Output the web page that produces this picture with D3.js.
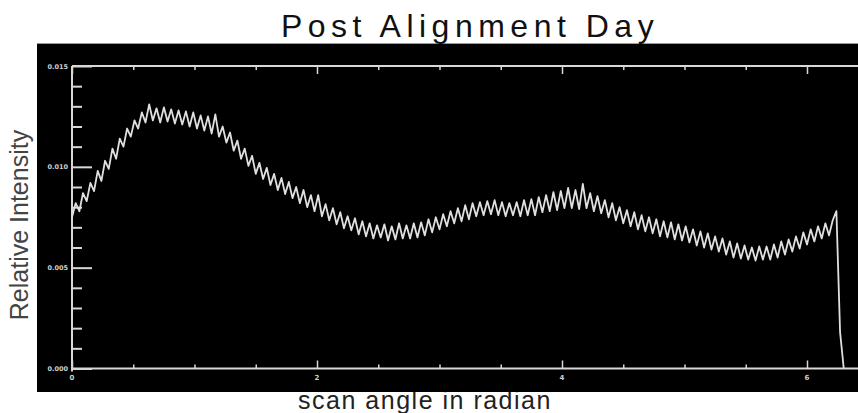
<!DOCTYPE html>
<html>
<head>
<meta charset="utf-8">
<script src="https://cdn.jsdelivr.net/npm/d3@7/dist/d3.min.js"></script>
<style>
  body { margin: 0; background: #fff; }
  svg { display: block; }
</style>
</head>
<body>
<svg id="chart" width="858" height="413"></svg>
<script>
// Chart Data
const chartTitle = "Post Alignment Day";
const xLabel = "scan angle in radian";
const yLabel = "Relative Intensity";

// angle sampling step (radian) of the scan
const angleStep = 0.03;

// relative intensity, in units of 1e-3, one value per sample
const intensity = [
    7.5, 8.2, 7.8, 8.7, 8.3, 9.2, 8.8, 9.8, 9.3, 10.3,
    9.9, 10.9, 10.4, 11.4, 11.0, 11.9, 11.5, 12.3, 11.9, 12.7,
    12.2, 13.1, 12.3, 12.9, 12.2, 12.95, 12.25, 12.85, 12.15, 12.8,
    12.1, 12.75, 12.0, 12.7, 11.9, 12.55, 11.8, 12.5, 11.65, 12.6,
    11.5, 12.0, 11.2, 11.7, 10.8, 11.3, 10.4, 10.9, 10.05, 10.55,
    9.65, 10.2, 9.4, 9.95, 9.1, 9.65, 8.85, 9.45, 8.65, 9.25,
    8.45, 9.0, 8.2, 8.85, 8.0, 8.6, 7.8, 8.6, 7.55, 8.15,
    7.35, 7.95, 7.15, 7.75, 6.95, 7.55, 6.85, 7.45, 6.65, 7.3,
    6.55, 7.2, 6.45, 7.1, 6.5, 7.15, 6.35, 7.05, 6.4, 7.2,
    6.45, 7.1, 6.45, 7.2, 6.5, 7.25, 6.6, 7.4, 6.75, 7.5,
    6.9, 7.65, 7.05, 7.8, 7.2, 7.95, 7.3, 8.1, 7.4, 8.2,
    7.55, 8.25, 7.6, 8.3, 7.65, 8.35, 7.6, 8.25, 7.55, 8.2,
    7.6, 8.25, 7.55, 8.35, 7.6, 8.4, 7.6, 8.5, 7.75, 8.6,
    7.8, 8.75, 7.85, 8.8, 7.95, 8.95, 7.95, 8.85, 7.9, 9.15,
    7.95, 8.7, 7.8, 8.55, 7.7, 8.35, 7.5, 8.2, 7.35, 8.0,
    7.2, 7.85, 7.05, 7.75, 6.9, 7.6, 6.8, 7.5, 6.7, 7.4,
    6.55, 7.3, 6.5, 7.25, 6.4, 7.15, 6.35, 7.05, 6.25, 6.9,
    6.1, 6.8, 6.0, 6.7, 5.9, 6.55, 5.8, 6.45, 5.65, 6.3,
    5.5, 6.2, 5.45, 6.1, 5.4, 6.0, 5.35, 6.05, 5.4, 6.05,
    5.4, 6.15, 5.5, 6.3, 5.65, 6.4, 5.8, 6.55, 5.95, 6.75,
    6.15, 6.9, 6.3, 7.05, 6.45, 7.2, 6.6, 7.35, 7.8, 1.8,
    0
];

// Axis ticks
const xMajorTicks = [0, 2, 4, 6];
const xMinorTicks = [0.5, 1, 1.5, 2.5, 3, 3.5, 4.5, 5, 5.5];
const yMajorTicks = [0, 5, 10, 15];
const yTickLabels = ["0.000", "0.005", "0.010", "0.015"];
const yMinorTicks = [1, 2, 3, 4, 6, 7, 8, 9, 11, 12, 13, 14];

// Build points
const points = intensity.map((v, i) => ({ angle: i * angleStep, value: v }));

// SVG and layout
const svg = d3.select("#chart");
const panel = { x: 37, y: 43, w: 821, h: 349 };
const plot = { left: 72, right: 858, top: 66, bottom: 368.5 };
const axisColor = "#d8d8d8";

// Scales
const x = d3.scaleLinear()
    .domain([0, (plot.right - plot.left) / 122.5])
    .range([plot.left, plot.right]);
const y = d3.scaleLinear()
    .domain([0, 15])
    .range([plot.bottom, plot.top]);

// X label sits behind the panel (its top is hidden)
svg.append("text")
    .attr("x", 425)
    .attr("y", 409)
    .attr("text-anchor", "middle")
    .attr("font-family", "Liberation Sans, Arial, sans-serif")
    .attr("font-size", 25)
    .attr("letter-spacing", 1.5)
    .attr("fill", "#222")
    .text(xLabel);

// Black panel
svg.append("rect")
    .attr("x", panel.x)
    .attr("y", panel.y)
    .attr("width", panel.w)
    .attr("height", panel.h)
    .attr("fill", "#000");
svg.append("line")
    .attr("x1", panel.x).attr("x2", panel.x + panel.w)
    .attr("y1", panel.y + 0.5).attr("y2", panel.y + 0.5)
    .attr("stroke", "#9a9a9a");

// Title
svg.append("text")
    .attr("x", 470)
    .attr("y", 37)
    .attr("text-anchor", "middle")
    .attr("font-family", "Liberation Sans, Arial, sans-serif")
    .attr("font-size", 32)
    .attr("letter-spacing", 5.5)
    .attr("fill", "#111")
    .text(chartTitle);

// Y label
svg.append("text")
    .attr("transform", "translate(28,225) rotate(-90)")
    .attr("text-anchor", "middle")
    .attr("font-family", "Liberation Sans, Arial, sans-serif")
    .attr("font-size", 25)
    .attr("fill", "#444")
    .text(yLabel);

const g = svg.append("g");

// Left axis with inward ticks
const yAxis = d3.axisRight(y)
    .tickValues(yMajorTicks)
    .tickSize(20)
    .tickFormat("");
g.append("g")
    .attr("transform", `translate(${plot.left},0)`)
    .call(yAxis)
    .call(s => s.select(".domain").remove())
    .call(s => s.selectAll("line").attr("stroke", axisColor).attr("stroke-width", 2));

g.append("g")
    .attr("transform", `translate(${plot.left},0)`)
    .call(d3.axisRight(y).tickValues(yMinorTicks).tickSize(10).tickFormat(""))
    .call(s => s.select(".domain").remove())
    .call(s => s.selectAll("line").attr("stroke", axisColor).attr("stroke-width", 2));

// Y tick labels
g.selectAll(".ylab")
    .data(yMajorTicks)
    .enter()
    .append("text")
    .attr("class", "ylab")
    .attr("x", plot.left - 4)
    .attr("y", d => y(d) + 2.5)
    .attr("text-anchor", "end")
    .attr("font-family", "DejaVu Sans, sans-serif")
    .attr("font-size", 6.5)
    .attr("font-weight", "bold")
    .attr("fill", "#cfcfcf")
    .text((d, i) => yTickLabels[i]);

// Bottom axis, ticks pointing up
g.append("g")
    .attr("transform", `translate(0,${plot.bottom})`)
    .call(d3.axisTop(x).tickValues(xMajorTicks).tickSize(8).tickFormat(""))
    .call(s => s.select(".domain").remove())
    .call(s => s.selectAll("line").attr("stroke", axisColor).attr("stroke-width", 1.5));
g.append("g")
    .attr("transform", `translate(0,${plot.bottom})`)
    .call(d3.axisTop(x).tickValues(xMinorTicks).tickSize(4).tickFormat(""))
    .call(s => s.select(".domain").remove())
    .call(s => s.selectAll("line").attr("stroke", axisColor).attr("stroke-width", 1.5));

// Top axis, ticks pointing down
g.append("g")
    .attr("transform", `translate(0,${plot.top})`)
    .call(d3.axisBottom(x).tickValues(xMajorTicks).tickSize(8).tickFormat(""))
    .call(s => s.select(".domain").remove())
    .call(s => s.selectAll("line").attr("stroke", axisColor).attr("stroke-width", 1.5));
g.append("g")
    .attr("transform", `translate(0,${plot.top})`)
    .call(d3.axisBottom(x).tickValues(xMinorTicks).tickSize(4).tickFormat(""))
    .call(s => s.select(".domain").remove())
    .call(s => s.selectAll("line").attr("stroke", axisColor).attr("stroke-width", 1.5));

// X tick labels
g.selectAll(".xlab")
    .data(xMajorTicks)
    .enter()
    .append("text")
    .attr("class", "xlab")
    .attr("x", d => x(d))
    .attr("y", plot.bottom + 11)
    .attr("text-anchor", "middle")
    .attr("font-family", "DejaVu Sans, sans-serif")
    .attr("font-size", 7)
    .attr("font-weight", "bold")
    .attr("fill", "#cfcfcf")
    .text(d => d);

// Axis lines
g.append("line")
    .attr("x1", plot.left).attr("x2", plot.right)
    .attr("y1", plot.bottom).attr("y2", plot.bottom)
    .attr("stroke", axisColor).attr("stroke-width", 2);
g.append("line")
    .attr("x1", plot.left).attr("x2", plot.right)
    .attr("y1", plot.top).attr("y2", plot.top)
    .attr("stroke", axisColor).attr("stroke-width", 2);
g.append("line")
    .attr("x1", plot.left).attr("x2", plot.left)
    .attr("y1", plot.top).attr("y2", plot.bottom + 3)
    .attr("stroke", axisColor).attr("stroke-width", 2);

// Data line
const line = d3.line()
    .x(d => x(d.angle))
    .y(d => y(d.value));

g.append("path")
    .datum(points)
    .attr("d", line)
    .attr("fill", "none")
    .attr("stroke", "#e0e0e0")
    .attr("stroke-width", 1.8)
    .attr("stroke-linejoin", "round");
</script>
</body>
</html>
